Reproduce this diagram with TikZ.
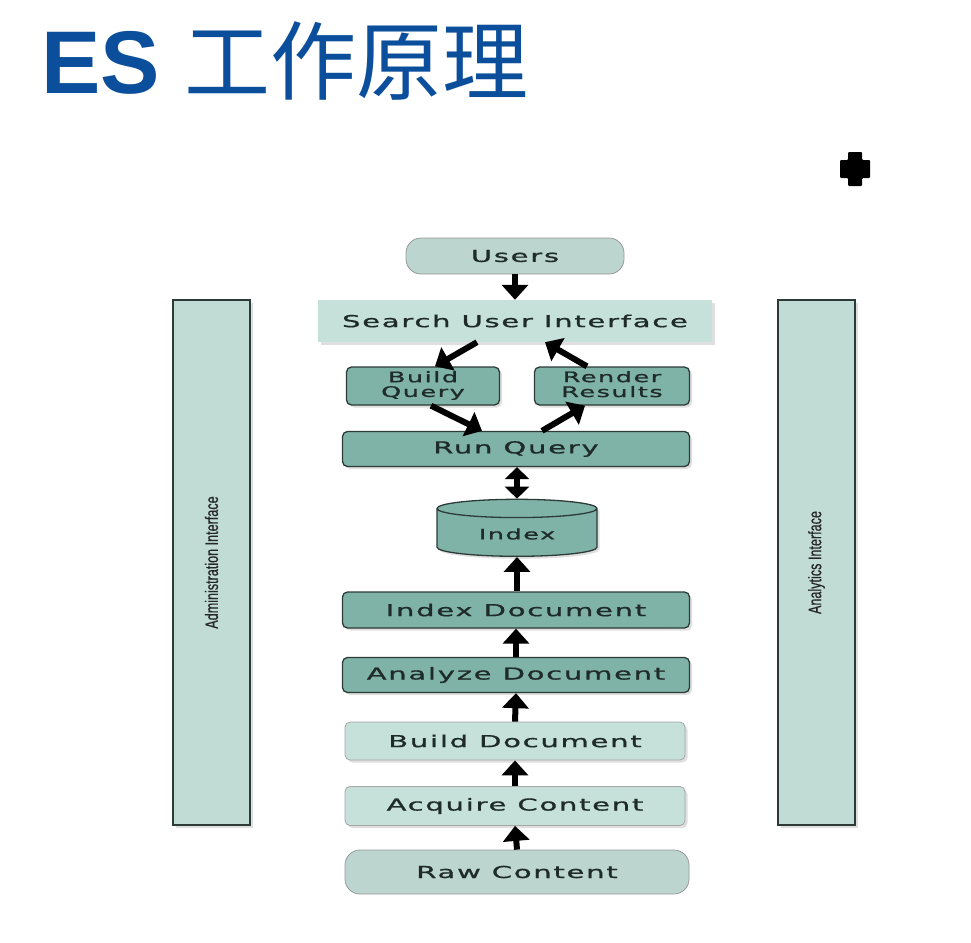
\documentclass[tikz,border=0pt]{standalone}
\usepackage{fontspec}
\setmainfont{DejaVu Sans}
\newfontfamily\titlefont{Liberation Sans}
\newfontfamily\sidefont{Liberation Sans}[FakeBold=0.6]
\newfontfamily\cjk{Noto Sans CJK SC}
\usetikzlibrary{arrows.meta,calc,shadows,shapes.geometric}
\definecolor{cTitle}{HTML}{0B4F9C}
\definecolor{cLight}{HTML}{C6E0DA}
\definecolor{cSide}{HTML}{C0DCD5}
\definecolor{cDark}{HTML}{80B3A7}
\definecolor{cLine}{HTML}{2C3B38}
\definecolor{cText}{HTML}{1E2B28}
\newcommand\lbl[1]{\scalebox{1.76}[1]{\addfontfeature{LetterSpace=6,FakeBold=0.8}#1}}
\tikzset{
  x=1pt, y=-1pt,
  font=\fontsize{16.5}{17}\selectfont, text=cText,
  box/.style={rectangle, fill=#1, minimum height=36pt, minimum width=347pt,
              inner sep=2pt,
              drop shadow={opacity=0.25, shadow xshift=2.5pt, shadow yshift=-2.5pt}},
  plain/.style={box=cLight},
  soft/.style={box=cLight, draw=black!35, line width=0.8pt, rounded corners=5pt,
               minimum width=340pt},
  dark/.style={box=cDark, draw=cLine, line width=1.3pt, rounded corners=5pt},
  twoline/.style={font=\fontsize{14.5}{13}\selectfont},
  puff/.style={rectangle, rounded corners=15pt, fill=cLight!95!black, draw=black!40,
               line width=0.8pt, inner sep=0pt},
  store/.style={cylinder, shape border rotate=90, aspect=0.22, fill=cDark,
                draw=cLine, line width=1.3pt,
                drop shadow={opacity=0.25, shadow xshift=2.5pt, shadow yshift=-2.5pt}},
  side/.style={rectangle, fill=cSide, draw=cLine, line width=1.6pt,
               minimum width=77pt, minimum height=525pt, inner sep=0pt,
               drop shadow={opacity=0.25, shadow xshift=3pt, shadow yshift=-3pt}},
  sidetext/.style={rotate=90, font=\sidefont\fontsize{18}{20}\selectfont, text=black!85},
  flow/.style={-{Triangle[length=15pt,width=26pt]}, line width=6pt, draw=black},
  both/.style={{Triangle[length=12pt,width=24pt]}-{Triangle[length=12pt,width=24pt]},
               line width=6pt, draw=black},
}

\begin{document}
\begin{tikzpicture}
\useasboundingbox[fill=white] (0,0) rectangle (971,942);

% ------------------------------------------------------------------ title
\node[anchor=base west, inner sep=0pt, text=cTitle,
      font=\titlefont\bfseries\fontsize{89}{92}\selectfont] (ttl) at (41,93)
  {ES {\cjk\mdseries\fontsize{86}{90}\selectfont 工作原理}};

% cursor mark
\fill[black, rounded corners=1pt] (848,152) -- (862,152) -- (862,160) -- (870,160)
  -- (870,178) -- (862,178) -- (862,186) -- (848,186) -- (848,178) -- (840,178)
  -- (840,160) -- (848,160) -- cycle;

% ------------------------------------------------------------------ side bars
\node[side] (admin) at (211.5,562.5) {};
\node[sidetext] at (admin.center) {\scalebox{0.7}[1]{Administration Interface}};
\node[side] (anal) at (816.5,562.5) {};
\node[sidetext] at (anal.center) {\scalebox{0.7}[1]{Analytics Interface}};

% ------------------------------------------------------------------ search side
\node[puff, minimum width=218pt, minimum height=36pt] (users) at (515,256) {\lbl{Users}};
\node[plain, minimum width=394pt, minimum height=42pt] (sui) at (515,321) {\lbl{Search User Interface}};
\node[dark, twoline, minimum width=153pt, minimum height=38pt] (bq) at (423,386)
  {\lbl{\begin{tabular}{@{}c@{}}Build\\Query\end{tabular}}};
\node[dark, twoline, minimum width=155pt, minimum height=38pt] (rr) at (612,386)
  {\lbl{\begin{tabular}{@{}c@{}}Render\\Results\end{tabular}}};
\node[dark, minimum height=35pt] (rq) at (516,449) {\lbl{Run Query}};
\node[store, minimum width=160pt, minimum height=57pt, twoline] (idx) at (517,534) {\lbl{Index}};

% ------------------------------------------------------------------ indexing side
\node[dark] (idoc) at (516,610) {\lbl{Index Document}};
\node[dark, minimum height=35pt] (adoc) at (516,675) {\lbl{Analyze Document}};
\node[soft, minimum height=38pt] (bdoc) at (515,741) {\lbl{Build Document}};
\node[soft, minimum height=39pt] (acq) at (515,806) {\lbl{Acquire Content}};
\node[puff, minimum width=344pt, minimum height=44pt] (raw) at (517,872) {\lbl{Raw Content}};

% ------------------------------------------------------------------ arrows
\draw[flow] (users.south) -- (sui.north);
\draw[flow] ($(sui.south)+(-38,0)$) -- ($(bq.north)+(12,0)$);
\draw[flow] ($(bq.south)+(8,0)$) -- ($(rq.north)+(-34,0)$);
\draw[flow] ($(rq.north)+(26,0)$) -- ($(rr.south)+(-27,0)$);
\draw[flow] ($(rr.north)+(-25,0)$) -- ($(sui.south)+(30,0)$);
\draw[both] (rq.south -| idx.north) -- (idx.north);
\draw[flow] (idoc.north -| idx.south) -- (idx.south);
\draw[flow] (adoc.north) -- (idoc.south);
\draw[flow] (bdoc.north) -- (adoc.south);
\draw[flow] (acq.north) -- (bdoc.south);
\draw[flow] (raw.north) -- (acq.south);

\end{tikzpicture}
\end{document}
